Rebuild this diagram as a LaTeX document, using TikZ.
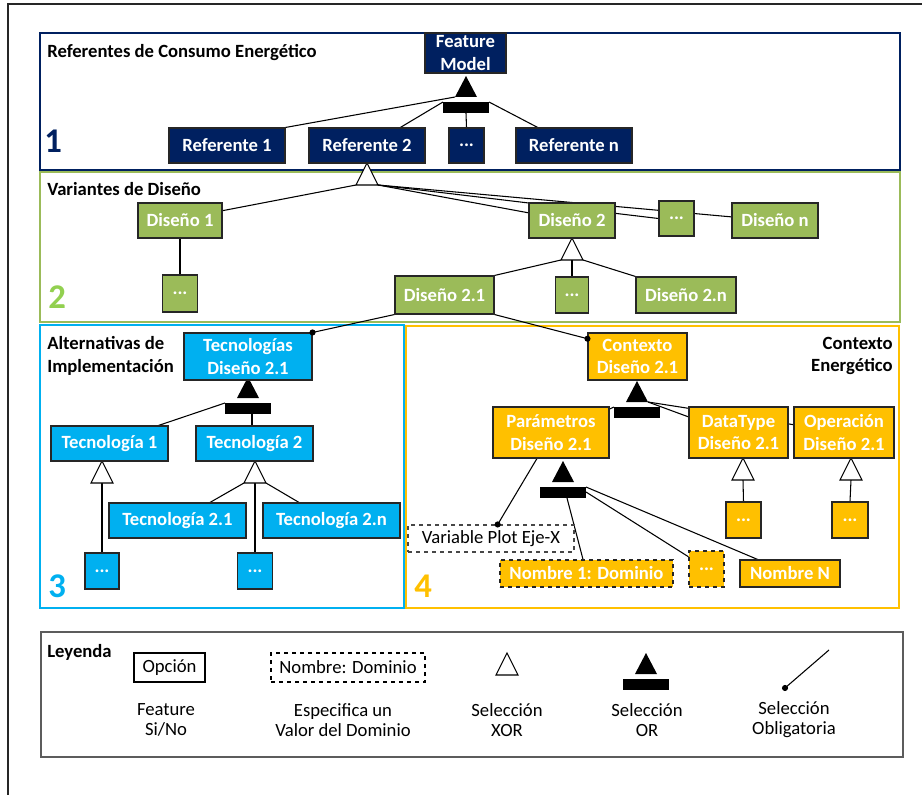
\documentclass[tikz,border=0pt]{standalone}
\usepackage{fontspec}
\setmainfont{Carlito}
\usetikzlibrary{calc,backgrounds}
\definecolor{navy}{HTML}{002060}
\definecolor{grn}{HTML}{9BBB59}
\definecolor{grnnum}{HTML}{92D050}
\definecolor{sky}{HTML}{00B0F0}
\definecolor{gold}{HTML}{FFC000}
\definecolor{edge}{HTML}{262626}
\tikzset{
  sz/.style 2 args={minimum width=#1*0.75pt, minimum height=#2*0.75pt},
  feat/.style={draw=edge, line width=0.8pt, text=white, font=\fontsize{14}{17}\selectfont\bfseries, align=center, inner sep=0pt},
  navyf/.style={feat, fill=navy},
  grnf/.style={feat, fill=grn},
  skyf/.style={feat, fill=sky},
  goldf/.style={feat, fill=gold},
  conn/.style={line width=0.8pt, black},
  panelframe/.style={line width=2pt},
  ptitle/.style={font=\fontsize{14}{17}\selectfont\bfseries, inner sep=0pt},
  pnum/.style={font=\fontsize{26}{30}\selectfont\bfseries, inner sep=0pt, anchor=base west},
  captxt/.style={font=\fontsize{14}{15}\selectfont, align=center, inner sep=0pt},
  plaintxt/.style={font=\fontsize{14}{17}\selectfont, inner sep=0pt, line width=0.8pt},
  orsym/.pic={
    \fill[black] (0,0) -- (-11,21) -- (11,21) -- cycle;
    \fill[black] (-23,26) rectangle (23,37);
    \coordinate (-l) at (-11,21);
    \coordinate (-r) at (11,21);
    \coordinate (-bl) at (-23,26);
    \coordinate (-br) at (23,26);
    \coordinate (-rm) at (23,31);
    \coordinate (-b) at (0,37);
    \coordinate (-b2) at (4,37);
  },
  xorsym/.pic={
    \draw[fill=white, line width=0.8pt, line join=miter] (0,0) -- (-11,22) -- (11,22) -- cycle;
    \coordinate (-l) at (-11,22);
    \coordinate (-r) at (11,22);
    \coordinate (-c) at (0,22);
  },
}
\begin{document}
\begin{tikzpicture}[x=0.75pt,y=-0.75pt]
\useasboundingbox (0,0) rectangle (922,795);

% ---------- symbols (drawn before boxes) ----------
\pic (or1) at (466,76) {orsym};
\pic (x1) at (367,163) {xorsym};
\pic (x2) at (572,238) {xorsym};
\pic (o3) at (248,377) {orsym};
\pic (x3) at (102,461) {xorsym};
\pic (x4) at (255,461) {xorsym};
\pic (o4) at (637,381) {orsym};
\pic (o5) at (563,461) {orsym};
\pic (x6) at (743,458) {xorsym};
\pic (x7) at (851,458) {xorsym};

% ---------- panel 1 ----------
\node[navyf, sz={81}{40}] (fm) at (465.5,53) {Feature\\Model};
\node[navyf, sz={116}{35}] (r1) at (227,145.5) {Referente 1};
\node[navyf, sz={116}{35}] (r2) at (367,145.5) {Referente 2};
\node[navyf, sz={35}{35}] (r3) at (466.5,145.5) {...};
\node[navyf, sz={116}{35}] (rn) at (574,145.5) {Referente n};
\node[ptitle, anchor=base west] (p1) at (47,58) {Referentes de Consumo Energético};
\node[pnum, text=navy] (n1) at (44,153) {1};

% ---------- panel 2 ----------
\node[grnf, sz={84}{35}] (d1) at (180,220.5) {Diseño 1};
\node[grnf, sz={86}{35}] (d2) at (572,220.5) {Diseño 2};
\node[grnf, sz={35}{35}] (d3) at (676.5,218.5) {...};
\node[grnf, sz={86}{35}] (dn) at (775,220.5) {Diseño n};
\node[grnf, sz={35}{37}] (d1x) at (180,293.5) {...};
\node[grnf, sz={99}{38}] (d21) at (444.5,295) {Diseño 2.1};
\node[grnf, sz={33}{36}] (d2x) at (572,295) {...};
\node[grnf, sz={100}{36}] (d2n) at (686,295) {Diseño 2.n};
\node[ptitle, anchor=base west] (p2) at (47,196) {Variantes de Diseño};
\node[pnum, text=grnnum] (n2) at (48,309) {2};

% ---------- panel 3 ----------
\node[skyf, sz={128}{47}] (tec) at (248,356.5) {Tecnologías\\Diseño 2.1};
\node[skyf, sz={117}{35}] (t1) at (109.5,443.5) {Tecnología 1};
\node[skyf, sz={117}{35}] (t2) at (254.5,443.5) {Tecnología 2};
\node[skyf, sz={137}{35}] (t21) at (177.5,520.5) {Tecnología 2.1};
\node[skyf, sz={137}{35}] (t2n) at (331.5,520.5) {Tecnología 2.n};
\node[skyf, sz={34}{36}] (t1x) at (102,571) {...};
\node[skyf, sz={35}{36}] (t2x) at (255,571) {...};
\node[ptitle, anchor=west, align=left] (p3) at (47,356) {Alternativas de\\Implementación};
\node[pnum, text=sky] (n3) at (48,597) {3};

% ---------- panel 4 ----------
\node[goldf, sz={99}{47}] (ctx) at (637.5,356.5) {Contexto\\Diseño 2.1};
\node[goldf, sz={116}{51}] (par) at (551,432.5) {Parámetros\\Diseño 2.1};
\node[goldf, sz={99}{51}] (dt) at (738.5,432.5) {DataType\\Diseño 2.1};
\node[goldf, sz={100}{51}] (op) at (844,432.5) {Operación\\Diseño 2.1};
\node[goldf, sz={35}{36}] (dtx) at (743.5,520) {...};
\node[goldf, sz={36}{36}] (opx) at (850,520) {...};
\node[plaintxt, draw=edge!85, dashed, fill=white, sz={166}{27}] (vp) at (491,538.5) {Variable Plot Eje-X};
\node[goldf, dashed, sz={173}{27}] (nm1) at (586.5,573.5) {Nombre 1: Dominio};
\node[goldf, dashed, sz={35}{36}] (nmx) at (706.5,569) {...};
\node[goldf, sz={100}{27}] (nmn) at (790,573.5) {Nombre N};
\node[ptitle, anchor=east, align=right] (p4) at (893,356) {Contexto\\Energético};
\node[pnum, text=gold] (n4) at (414,597) {4};

% ---------- legend ----------
\node[ptitle, anchor=base west] (leg) at (47,657) {Leyenda};
\node[plaintxt, draw=black, sz={71}{29}] (lop) at (169.5,667.5) {Opción};
\node[plaintxt, draw=black, dashed, sz={154}{29}] (ldom) at (348,667.5) {Nombre: Dominio};
\pic (lx) at (507,653) {xorsym};
\pic (lor) at (646,653) {orsym};
\coordinate (lm1) at (829,650);
\coordinate (lm2) at (785,688);
\node[captxt] (c1) at (166,720) {Feature\\Si/No};
\node[captxt] (c2) at (343,720) {Especifica un\\Valor del Dominio};
\node[captxt] (c3) at (507,720) {Selección\\XOR};
\node[captxt] (c4) at (647,720) {Selección\\OR};
\node[captxt] (c5) at (794,720) {Selección\\Obligatoria};

% ---------- mandatory dots ----------
\coordinate (mtec) at (tec.north east);
\coordinate (mctx) at ($(ctx.north west)!0.13!(ctx.south west)$);
\coordinate (mvp) at ($(vp.north)!0.08!(vp.north east)$);
\fill (mtec) circle[radius=2.3pt];
\fill (mctx) circle[radius=2.3pt];
\fill (mvp) circle[radius=2.3pt];
\fill (lm2) circle[radius=2.3pt];

\begin{pgfonlayer}{background}
  % frames
  \draw[line width=1.1pt, edge] (8,795) -- (8,4) -- (922,4);
  \draw[panelframe, navy] (40,33) rectangle (900,170);
  \draw[panelframe, grn] (40,172) rectangle (900,322);
  \draw[panelframe, sky] (40,325) rectangle (404,608);
  \draw[panelframe, gold] (406,326) rectangle (899,608);
  \draw[line width=1.2pt, edge!75] (41,632) rectangle (903,757);

  % panel 1
  \draw[conn] (r1.north east) -- (or1-l);
  \draw[conn] ($(r2.north)!0.57!(r2.north east)$) -- (or1-bl);
  \draw[conn] (r3.north) -- (or1-b);
  \draw[conn] ($(rn.north west)!0.19!(rn.north east)$) -- (or1-br);

  % panel 2
  \draw[conn] (x1-l) -- (d1.13);
  \draw[conn] (x1-r) -- (d2.170);
  \draw[conn] (x1-r) -- (d3.west);
  \draw[conn] (x1-r) -- ($(dn.north west)!0.4!(dn.south west)$);
  \draw[conn] (d1.south) -- (d1x.north);
  \draw[conn] (x2-l) -- (d21.north east);
  \draw[conn] (x2-c) -- (d2x.north);
  \draw[conn] (x2-r) -- (d2n.north west);

  % panel 3
  \draw[conn] (d21.south west) -- (mtec);
  \draw[conn] (o3-bl) -- ($(t1.north)!0.83!(t1.north east)$);
  \draw[conn] (o3-b2) -- (o3-b2 |- t2.north);
  \draw[conn] (x3-c) -- (t1x.north);
  \draw[conn] (x4-l) -- ($(t21.north)!0.47!(t21.north east)$);
  \draw[conn] (x4-c) -- (t2x.north);
  \draw[conn] (x4-r) -- ($(t2n.north)!0.47!(t2n.north west)$);

  % panel 4
  \draw[conn] (d21.south east) -- (mctx);
  \draw[conn] (o4-bl) -- ($(par.north east)!0.05!(par.south east)$);
  \draw[conn] (o4-r) -- ($(op.north west)!0.35!(op.south west)$);
  \draw[conn] (o4-r) -- ($(dt.north west)!0.2!(dt.south west)$);
  \draw[conn] ($(par.south)!0.24!(par.south west)$) -- (mvp);
  \draw[conn] (o5-b2) -- ($(nm1.north)!0.04!(nm1.north west)$);
  \draw[conn] (o5-rm) -- ($(nmx.north west)!0.17!(nmx.south west)$);
  \draw[conn] (o5-br) -- ($(nmn.north west)!0.18!(nmn.north east)$);
  \draw[conn] (x6-c) -- (dtx.north);
  \draw[conn] (x7-c) -- (opx.north);

  % legend
  \draw[conn] (lm1) -- (lm2);
\end{pgfonlayer}
\end{tikzpicture}
\end{document}
